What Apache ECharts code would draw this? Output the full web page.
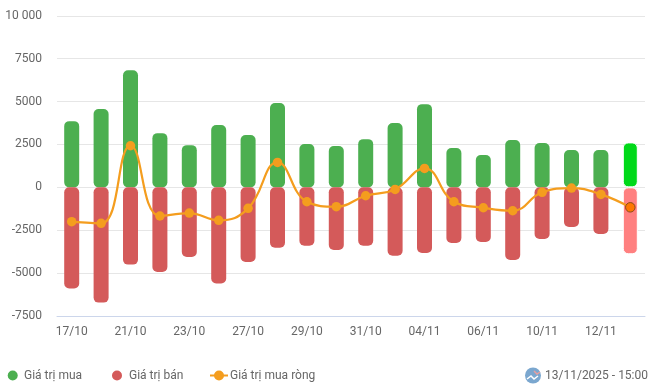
<!DOCTYPE html>
<html><head><meta charset="utf-8">
<style>html,body{margin:0;padding:0;background:#fff}#c{width:652px;height:390px}</style>
<script src="https://cdn.jsdelivr.net/npm/echarts@6/dist/echarts.min.js"></script>
</head><body><div id="c"></div>
<script>
const categories = ['17/10','20/10','21/10','22/10','23/10','24/10','27/10','28/10','29/10','30/10','31/10','03/11','04/11','05/11','06/11','07/11','10/11','11/11','12/11','13/11'];
const buyValues = [3860,4560,6830,3160,2460,3630,3050,4910,2520,2405,2810,3745,4850,2290,1880,2755,2580,2170,2170,2620];
const sellValues = [-5900,-6720,-4505,-4930,-4060,-5610,-4350,-3515,-3400,-3650,-3400,-3985,-3825,-3245,-3185,-4235,-3010,-2310,-2720,-3900];
const netValues = [-2000,-2100,2425,-1670,-1500,-1925,-1225,1455,-840,-1130,-490,-120,1105,-840,-1190,-1365,-290,-40,-410,-1165];
const legendNames = ['Giá trị mua','Giá trị bán','Giá trị mua ròng'];
const stampText = '13/11/2025 - 15:00';

const FONT = 'Roboto';
const last = categories.length - 1;
const withLast = (arr, style) => arr.map((v, i) => i === last ? {value: v, itemStyle: style} : v);
const radius = 5;
const LY = 375.5;
const chart = echarts.init(document.getElementById('c'), null, {renderer: 'canvas'});
chart.setOption({
  animation: false,
  backgroundColor: '#fff',
  grid: {left: 57, right: 7, top: 15.8, bottom: 74, containLabel: false},
  xAxis: {
    type: 'category', data: categories,
    axisLine: {onZero: false, lineStyle: {color: '#ccd6eb', width: 1}},
    axisTick: {show: false},
    axisLabel: {interval: 1, color: '#666', fontFamily: FONT, fontSize: 12, margin: 10}
  },
  yAxis: {
    type: 'value', min: -7500, max: 10000, interval: 2500,
    axisLine: {show: false}, axisTick: {show: false},
    splitLine: {lineStyle: {color: '#e6e6e6', width: 1}},
    axisLabel: {color: '#666', fontFamily: FONT, fontSize: 12, margin: 15, padding: [4, 0, 0, 0],
      formatter: v => v === 10000 ? '10 000' : String(v)}
  },
  legend: {show: false},
  series: [
    {name: legendNames[0], type: 'bar', barWidth: 15, barGap: '-100%',
     itemStyle: {color: '#4caf50', borderRadius: radius},
     data: withLast(buyValues, {color: '#00d919', borderColor: '#fff', borderWidth: 1, borderRadius: radius})},
    {name: legendNames[1], type: 'bar', barWidth: 15,
     itemStyle: {color: '#d45a5a', borderRadius: radius},
     data: withLast(sellValues, {color: '#ff8080', borderColor: '#fff', borderWidth: 1, borderRadius: radius})},
    {name: legendNames[2], type: 'line', smooth: 0.45, symbol: 'circle', symbolSize: 9.5,
     lineStyle: {color: '#f49d1e', width: 2.2}, itemStyle: {color: '#f49d1e'}, z: 5,
     data: netValues.map((v, i) => i === last
       ? {value: v, symbolSize: 9.5, itemStyle: {color: '#ff7700', borderColor: '#8a4a1a', borderWidth: 1}} : v)}
  ],
  graphic: [
    {type: 'circle', shape: {cx: 12.7, cy: LY, r: 5}, style: {fill: '#4caf50'}},
    {type: 'text', style: {x: 24, y: LY, text: legendNames[0], fill: '#666', font: '12px ' + FONT, textVerticalAlign: 'middle'}},
    {type: 'circle', shape: {cx: 117, cy: LY, r: 5}, style: {fill: '#d45a5a'}},
    {type: 'text', style: {x: 129, y: LY, text: legendNames[1], fill: '#666', font: '12px ' + FONT, textVerticalAlign: 'middle'}},
    {type: 'line', shape: {x1: 210, y1: LY, x2: 228, y2: LY}, style: {stroke: '#f49d1e', lineWidth: 2}},
    {type: 'circle', shape: {cx: 219, cy: LY, r: 5}, style: {fill: '#f49d1e'}},
    {type: 'text', style: {x: 230, y: LY, text: legendNames[2], fill: '#666', font: '12px ' + FONT, textVerticalAlign: 'middle'}},
    {type: 'circle', shape: {cx: 533, cy: LY, r: 8}, style: {fill: '#7ba7cf'}},
    {type: 'polyline', shape: {points: [[527, 379], [531, 376], [534, 379], [538, 376]]}, style: {stroke: '#fff', lineWidth: 1.5, fill: null}},
    {type: 'polyline', shape: {points: [[534, 371], [537, 374], [540, 372]]}, style: {stroke: '#e8a0a0', lineWidth: 1.5, fill: null}},
    {type: 'text', style: {x: 545, y: LY, text: stampText, fill: '#666', font: '12px ' + FONT, textVerticalAlign: 'middle'}}
  ]
});
</script></body></html>
